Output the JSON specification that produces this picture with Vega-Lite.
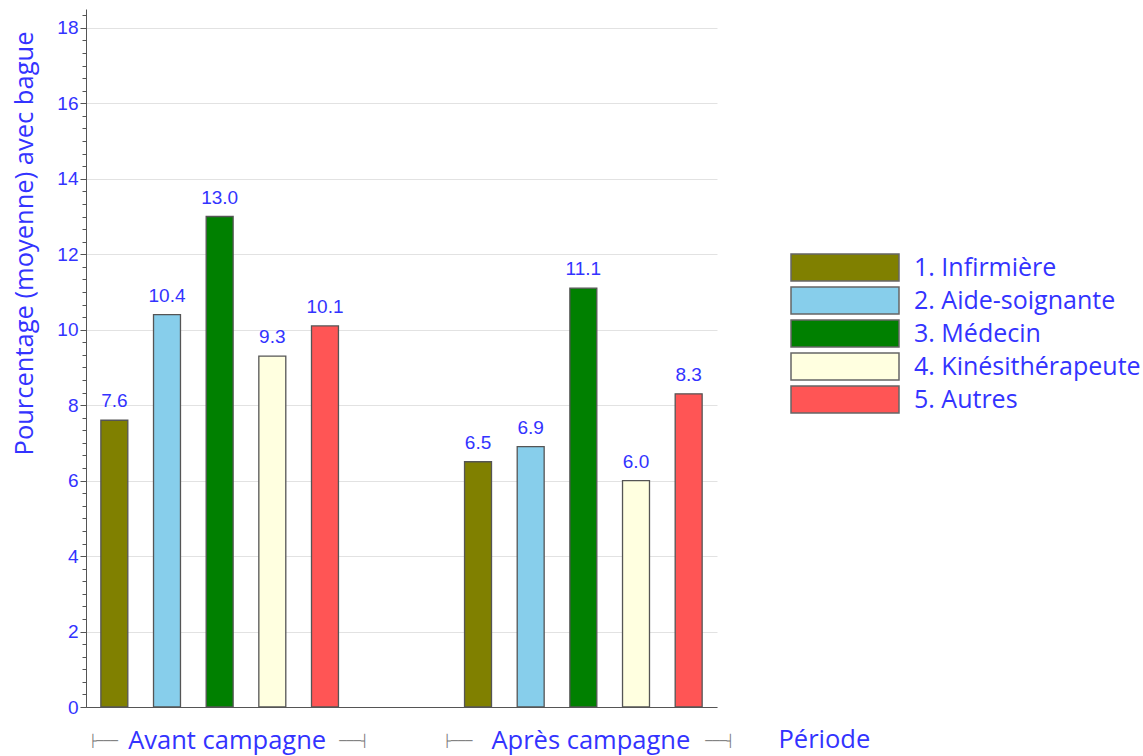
{
  "$schema": "https://vega.github.io/schema/vega-lite/v6.json",
  "width": 631,
  "height": 698,
  "autosize": {"type": "none"},
  "padding": {"left": 86, "top": 9, "right": 426, "bottom": 49},
  "background": "white",
  "data": {
    "values": [
      {"periode": "Avant campagne", "profession": "1. Infirmière", "pct": 7.6},
      {"periode": "Avant campagne", "profession": "2. Aide-soignante", "pct": 10.4},
      {"periode": "Avant campagne", "profession": "3. Médecin", "pct": 13.0},
      {"periode": "Avant campagne", "profession": "4. Kinésithérapeute", "pct": 9.3},
      {"periode": "Avant campagne", "profession": "5. Autres", "pct": 10.1},
      {"periode": "Après campagne", "profession": "1. Infirmière", "pct": 6.5},
      {"periode": "Après campagne", "profession": "2. Aide-soignante", "pct": 6.9},
      {"periode": "Après campagne", "profession": "3. Médecin", "pct": 11.1},
      {"periode": "Après campagne", "profession": "4. Kinésithérapeute", "pct": 6.0},
      {"periode": "Après campagne", "profession": "5. Autres", "pct": 8.3}
    ]
  },
  "layer": [
    {
      "mark": {"type": "bar", "stroke": "#555555", "strokeWidth": 1.3},
      "encoding": {
        "x": {
          "field": "periode", "type": "nominal", "sort": ["Avant campagne", "Après campagne"],
          "scale": {"paddingInner": 0.265, "paddingOuter": 0},
          "axis": {
            "orient": "bottom", "ticks": false, "tickSize": 0, "domainColor": "#555555",
            "labelAngle": 0, "labelFont": "Open Sans", "labelFontSize": 25.5, "labelColor": "#3333ff",
            "labelBaseline": "alphabetic", "labelPadding": 41, "labelOffset": 7.5, "labelLimit": 0,
            "title": "Période", "titleFont": "Open Sans", "titleFontSize": 25.5, "titleFontWeight": "normal",
            "titleColor": "#3333ff", "titleX": 692, "titleY": 40, "titleAlign": "left", "titleBaseline": "alphabetic"
          }
        },
        "xOffset": {
          "field": "profession", "type": "nominal",
          "scale": {"paddingInner": 0.488, "paddingOuter": 0.282}
        },
        "y": {
          "field": "pct", "type": "quantitative",
          "scale": {"domain": [0, 18.5], "nice": false},
          "axis": {
            "orient": "left", "values": [0, 2, 4, 6, 8, 10, 12, 14, 16, 18],
            "grid": true, "gridColor": "#e2e2e2", "domainColor": "#555555", "tickColor": "#555555",
            "tickSize": 6, "labelPadding": 2, "labelFont": "Liberation Sans", "labelFontSize": 19,
            "labelColor": "#3333ff",
            "title": "Pourcentage (moyenne) avec bague", "titleFont": "Open Sans", "titleFontSize": 25.5,
            "titleFontWeight": "normal", "titleColor": "#3333ff", "titleAngle": -90,
            "titleX": -54, "titleY": 234, "titleAlign": "center", "titleBaseline": "alphabetic"
          }
        },
        "color": {
          "field": "profession", "type": "nominal",
          "scale": {
            "domain": ["1. Infirmière", "2. Aide-soignante", "3. Médecin", "4. Kinésithérapeute", "5. Autres"],
            "range": ["#808000", "#87ceeb", "#008000", "#ffffe0", "#ff5555"]
          },
          "legend": {
            "orient": "none", "legendX": 704, "legendY": 244, "title": null, "padding": 0,
            "symbolType": "M-1,-1H7V1H-1Z", "symbolSize": 729, "symbolStrokeColor": "#666666",
            "symbolStrokeWidth": 1.5, "symbolOpacity": 1,
            "labelFont": "Open Sans", "labelFontSize": 25, "labelColor": "#3333ff",
            "labelOffset": 95, "labelLimit": 0, "rowPadding": 0
          }
        }
      }
    },
    {
      "mark": {"type": "text", "font": "Liberation Sans", "fontSize": 19, "color": "#3333ff", "baseline": "alphabetic", "dy": -13},
      "encoding": {
        "x": {
          "field": "periode", "type": "nominal", "sort": ["Avant campagne", "Après campagne"],
          "axis": {
            "orient": "bottom", "domain": false, "ticks": false, "tickSize": 0, "title": null,
            "labelAngle": 0, "labelFont": "DejaVu Sans", "labelFontSize": 12, "labelColor": "#777777",
            "labelBaseline": "middle", "labelPadding": 33, "labelLimit": 0,
            "labelOffset": {"condition": {"test": "datum.value == 'Avant campagne'", "value": 9}, "value": 5.5},
            "labelExpr": "datum.value == 'Avant campagne' ? '├───' + pad('', 58, '\u00a0') + '───┤' : '├───' + pad('', 61, '\u00a0') + '───┤'"
          }
        },
        "xOffset": {"field": "profession", "type": "nominal"},
        "y": {
          "field": "pct", "type": "quantitative",
          "axis": {
            "orient": "left", "grid": false, "domain": false, "labels": false, "title": null,
            "tickSize": 4, "tickColor": "#555555",
            "values": [0, 0.3333, 0.6667, 1, 1.3333, 1.6667, 2, 2.3333, 2.6667, 3, 3.3333, 3.6667, 4, 4.3333, 4.6667, 5, 5.3333, 5.6667, 6, 6.3333, 6.6667, 7, 7.3333, 7.6667, 8, 8.3333, 8.6667, 9, 9.3333, 9.6667, 10, 10.3333, 10.6667, 11, 11.3333, 11.6667, 12, 12.3333, 12.6667, 13, 13.3333, 13.6667, 14, 14.3333, 14.6667, 15, 15.3333, 15.6667, 16, 16.3333, 16.6667, 17, 17.3333, 17.6667, 18, 18.3333]
          }
        },
        "text": {"field": "pct", "type": "quantitative", "format": ".1f"}
      }
    }
  ],
  "resolve": {"axis": {"x": "independent", "y": "independent"}},
  "config": {"view": {"stroke": null}}
}
